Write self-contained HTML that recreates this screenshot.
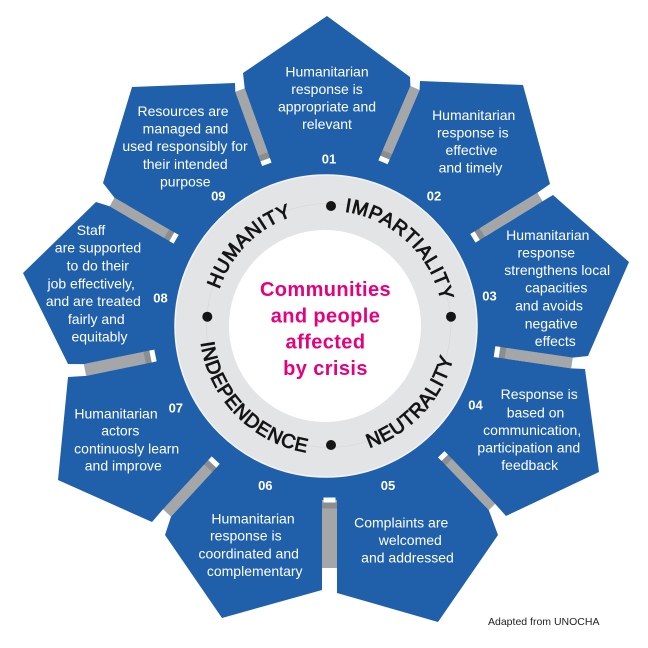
<!DOCTYPE html>
<html><head><meta charset="utf-8">
<style>
html,body{margin:0;padding:0;background:#fff;}
svg{display:block;}
.pt{font-family:"Liberation Sans",sans-serif;font-size:14px;fill:#fff;text-anchor:middle;}
.num{font-family:"Liberation Sans",sans-serif;font-size:13px;font-weight:bold;fill:#fff;text-anchor:middle;}
.ring{font-family:"Liberation Sans",sans-serif;font-size:19.5px;fill:#151515;stroke:#151515;stroke-width:0.85;letter-spacing:0.7px;}
.ctr{font-family:"Liberation Sans",sans-serif;font-size:20px;font-weight:bold;fill:#e5007d;text-anchor:middle;letter-spacing:0.4px;}
</style></head>
<body>
<svg width="648" height="648" viewBox="0 0 648 648" xmlns="http://www.w3.org/2000/svg">
<rect width="648" height="648" fill="#fff"/>
<circle cx="329" cy="325" r="180" fill="#2060aa"/>

<g fill="#a5a6a8">
<g transform="translate(266,162) rotate(-109.86)"><rect x="0" y="-5" width="76.55" height="10"/><rect x="2.5" y="-5" width="6" height="10" fill="#8c8d8f"/></g>
<g transform="translate(384,160) rotate(-66.70)"><rect x="0" y="-5" width="78.39" height="10"/><rect x="2.5" y="-5" width="6" height="10" fill="#8c8d8f"/></g>
<g transform="translate(475,237) rotate(-31.61)"><rect x="0" y="-5" width="76.32" height="10"/><rect x="2.5" y="-5" width="6" height="10" fill="#8c8d8f"/></g>
<g transform="translate(497,352) rotate(8.34)"><rect x="0" y="-5.5" width="75.8" height="11"/><rect x="2.5" y="-5.5" width="6" height="11" fill="#8c8d8f"/></g>
<g transform="translate(443,456) rotate(46.15)"><rect x="0" y="-4.5" width="70.73" height="9"/><rect x="2.5" y="-4.5" width="6" height="9" fill="#8c8d8f"/></g>
<g transform="translate(329.5,500) rotate(90)"><rect x="0" y="-7.5" width="68" height="15"/><rect x="2.5" y="-7.5" width="6" height="15" fill="#8c8d8f"/></g>
<g transform="translate(214,462) rotate(132.66)"><rect x="0" y="-5.5" width="69.35" height="11"/><rect x="2.5" y="-5.5" width="6" height="11" fill="#8c8d8f"/></g>
<g transform="translate(153,356) rotate(168.37)"><rect x="0" y="-6" width="69.43" height="12"/><rect x="2.5" y="-6" width="6" height="12" fill="#8c8d8f"/></g>
<g transform="translate(174,238) rotate(210.14)"><rect x="0" y="-5" width="71.69" height="10"/><rect x="2.5" y="-5" width="6" height="10" fill="#8c8d8f"/></g>
</g>

<g fill="#2060aa">
<polygon points="329,325 270.7,160.3 244.7,88.3 243,73 327,16 410,77 410.4,86 379.4,158"/>
<polygon points="329,325 388.6,162 419.6,90 420,81 523,85 550,184 537.4,192.7 472.4,232.7"/>
<polygon points="329,325 477.6,241.3 542.6,201.3 553,195 629,262 588,356 572.8,357.6 497.8,346.6"/>
<polygon points="329,325 496.2,357.4 571.2,368.4 585,369 599,472 506,516 495.2,503.9 446.2,452.9"/>
<polygon points="329,325 439.8,459.1 488.8,510.1 498,535 438,622 337,593 337,568 337,500"/>
<polygon points="329,325 322,500 322,568 322,590 222,618 165,535 171,516.7 218,465.7"/>
<polygon points="329,325 210,458.3 163,509.3 152,522 58,480 68,377 86.2,375.9 154.2,361.9"/>
<polygon points="329,325 151.8,350.1 83.8,364.1 68,364 23,273 96,202 109.5,206.3 171.5,242.3"/>
<polygon points="329,325 176.5,233.7 114.5,197.7 103,183 132,87 235,83 235.3,91.7 261.3,163.7"/>
</g>

<g fill="#fff">
<g transform="translate(266,162) rotate(-109.86)"><rect x="-2.5" y="-5" width="5" height="10"/></g>
<g transform="translate(384,160) rotate(-66.70)"><rect x="-2.5" y="-5" width="5" height="10"/></g>
<g transform="translate(475,237) rotate(-31.61)"><rect x="-2.5" y="-5" width="5" height="10"/></g>
<g transform="translate(497,352) rotate(8.34)"><rect x="-2.5" y="-5.5" width="5" height="11"/></g>
<g transform="translate(443,456) rotate(46.15)"><rect x="-2.5" y="-4.5" width="5" height="9"/></g>
<g transform="translate(329.5,500) rotate(90)"><rect x="-2.5" y="-6" width="5" height="12"/></g>
<g transform="translate(214,462) rotate(132.66)"><rect x="-2.5" y="-5.5" width="5" height="11"/></g>
<g transform="translate(153,356) rotate(168.37)"><rect x="-2.5" y="-6" width="5" height="12"/></g>
<g transform="translate(174,238) rotate(210.14)"><rect x="-2.5" y="-5" width="5" height="10"/></g>
</g>

<circle cx="326" cy="326" r="151" fill="#e3e4e6" stroke="#f4f4f5" stroke-width="1.5"/>
<circle cx="328.5" cy="325.5" r="122" fill="none" stroke="#d9dadc" stroke-width="0.8"/>
<circle cx="325" cy="326" r="96" fill="#fff"/>

<defs>
<path id="pHum" d="M234.3,391.5 A115,115 0 0 1 394.5,231.3"/>
<path id="pImp" d="M259.3,233.7 A115,115 0 0 1 425.0,388.1"/>
<path id="pNeu" d="M258.2,433.7 A129,129 0 0 0 431.5,247.9"/>
<path id="pInd" d="M224.1,249.7 A129,129 0 0 0 400.6,432.4"/>
</defs>
<text class="ring"><textPath href="#pHum" startOffset="50%" text-anchor="middle">HUMANITY</textPath></text>
<text class="ring"><textPath href="#pImp" startOffset="50%" text-anchor="middle">IMPARTIALITY</textPath></text>
<text class="ring"><textPath href="#pNeu" startOffset="50%" text-anchor="middle">NEUTRALITY</textPath></text>
<text class="ring"><textPath href="#pInd" startOffset="50%" text-anchor="middle">INDEPENDENCE</textPath></text>

<g fill="#151515">
<circle cx="331" cy="206" r="5"/>
<circle cx="207.3" cy="316.7" r="5"/>
<circle cx="451" cy="316.7" r="5"/>
<circle cx="331" cy="445" r="5"/>
</g>

<text class="ctr" x="325.5" y="296">Communities</text>
<text class="ctr" x="325.5" y="322.3">and people</text>
<text class="ctr" x="325.5" y="348.6">affected</text>
<text class="ctr" x="325.5" y="375">by crisis</text>

<text class="pt" x="327" y="76.7">Humanitarian</text>
<text class="pt" x="327" y="94">response is</text>
<text class="pt" x="327" y="111.7">appropriate and</text>
<text class="pt" x="327" y="129">relevant</text>
<text class="num" x="329" y="163.3">01</text>

<text class="pt" x="473.7" y="120">Humanitarian</text>
<text class="pt" x="472.8" y="137.3">response is</text>
<text class="pt" x="471.5" y="155">effective</text>
<text class="pt" x="470.5" y="172.7">and timely</text>
<text class="num" x="434" y="200.7">02</text>

<text class="pt" x="547.8" y="240">Humanitarian</text>
<text class="pt" x="546.3" y="257.3">response</text>
<text class="pt" x="557.2" y="275">strengthens local</text>
<text class="pt" x="556.2" y="292.7">capacities</text>
<text class="pt" x="549" y="310.7">and avoids</text>
<text class="pt" x="551.2" y="328.3">negative</text>
<text class="pt" x="555.3" y="346">effects</text>
<text class="num" x="489.5" y="300.7">03</text>

<text class="pt" x="539.2" y="399">Response is</text>
<text class="pt" x="535.5" y="417.3">based on</text>
<text class="pt" x="532.2" y="435">communication,</text>
<text class="pt" x="528.8" y="452.7">participation and</text>
<text class="pt" x="529.7" y="470">feedback</text>
<text class="num" x="475.5" y="409.3">04</text>

<text class="pt" x="401.2" y="527.7">Complaints are</text>
<text class="pt" x="410.3" y="545">welcomed</text>
<text class="pt" x="407.5" y="562.7">and addressed</text>
<text class="num" x="388" y="490">05</text>

<text class="pt" x="253" y="523.3">Humanitarian</text>
<text class="pt" x="245.8" y="540.7">response is</text>
<text class="pt" x="248.7" y="558.3">coordinated and</text>
<text class="pt" x="254.7" y="576">complementary</text>
<text class="num" x="265.3" y="490">06</text>

<text class="pt" x="116" y="418.3">Humanitarian</text>
<text class="pt" x="120.3" y="435.7">actors</text>
<text class="pt" x="126.7" y="453.3">continuosly learn</text>
<text class="pt" x="123.3" y="470.7">and improve</text>
<text class="num" x="175.8" y="412.7">07</text>

<text class="pt" x="91" y="235">Staff</text>
<text class="pt" x="98" y="252.7">are supported</text>
<text class="pt" x="97.8" y="270.7">to do their</text>
<text class="pt" x="91.2" y="288.3">job effectively,</text>
<text class="pt" x="93.3" y="306">and are treated</text>
<text class="pt" x="96.3" y="324">fairly and</text>
<text class="pt" x="99.5" y="341.7">equitably</text>
<text class="num" x="160.5" y="302.7">08</text>

<text class="pt" x="183" y="116">Resources are</text>
<text class="pt" x="185.5" y="133.3">managed and</text>
<text class="pt" x="185" y="151">used responsibly for</text>
<text class="pt" x="185.3" y="169">their intended</text>
<text class="pt" x="185.3" y="186.7">purpose</text>
<text class="num" x="218.3" y="200.7">09</text>

<text x="488" y="625" font-family="Liberation Sans, sans-serif" font-size="10.5" fill="#222">Adapted from UNOCHA</text>
</svg>
</body></html>
